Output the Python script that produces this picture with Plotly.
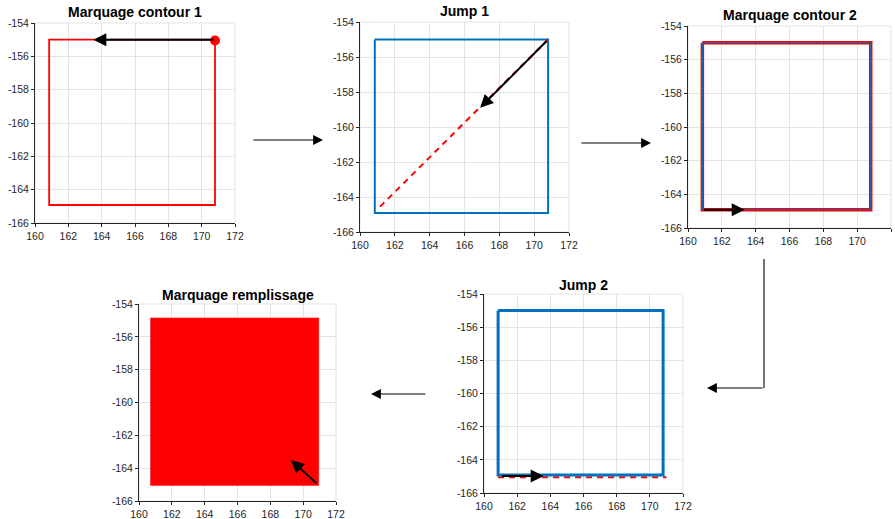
import plotly.graph_objects as go

W, H = 895, 519

# ---- data ----
titles = ["Marquage contour 1", "Jump 1", "Marquage contour 2", "Marquage remplissage", "Jump 2"]
xticks = [160, 162, 164, 166, 168, 170, 172]
yticks = [-166, -164, -162, -160, -158, -156, -154]
xticklabels = ["160", "162", "164", "166", "168", "170", "172"]
yticklabels = ["-166", "-164", "-162", "-160", "-158", "-156", "-154"]

square_x = [160.85, 170.8, 170.8, 160.85, 160.85]
square_y = [-155.0, -155.0, -164.92, -164.92, -155.0]
contour1_x = [170.8, 160.85, 160.85, 170.8, 170.8]
contour1_y = [-155.0, -155.0, -164.92, -164.92, -155.0]
start_pt_x = [170.8]
start_pt_y = [-155.05]
jump1_x = [170.8, 160.95]
jump1_y = [-155.0, -164.75]
jump2_x = [160.85, 171.0]
jump2_y = [-165.05, -165.05]
fill_x = [160.7, 170.95, 170.95, 160.7, 160.7]
fill_y = [-154.85, -154.85, -165.05, -165.05, -154.85]

# arrows inside panels: (panel, tail_x, tail_y, head_x, head_y)
panel_arrows = [
    (1, 170.8, -155.0, 163.5, -155.0),
    (2, 170.8, -155.0, 166.9, -158.9),
    (3, 160.85, -164.92, 163.35, -164.92),
    (4, 170.9, -165.0, 169.25, -163.5),
    (5, 161.0, -164.98, 163.6, -164.98),
]

# ---- layout (pixel boxes of each panel: x0, x1, y0(top), y1(bottom), title centre y) ----
boxes = {
    1: (35, 235, 23, 223, 12),
    2: (360, 569, 22, 232, 11),
    3: (688, 891, 26, 228, 15),
    4: (139, 336, 304, 501, 295),
    5: (484, 683, 294, 493, 285),
}

fig = go.Figure()
RED = "#ff0000"
BLUE = "#0072bd"

def ax(i):
    return ("x" if i == 1 else f"x{i}"), ("y" if i == 1 else f"y{i}")

# panel 1
xa, ya = ax(1)
fig.add_trace(go.Scatter(x=contour1_x, y=contour1_y, mode="lines", line=dict(color=RED, width=1.8),
                         xaxis=xa, yaxis=ya))
fig.add_trace(go.Scatter(x=start_pt_x, y=start_pt_y, mode="markers", marker=dict(color=RED, size=10),
                         xaxis=xa, yaxis=ya))
# panel 2
xa, ya = ax(2)
fig.add_trace(go.Scatter(x=square_x, y=square_y, mode="lines", line=dict(color=BLUE, width=2),
                         xaxis=xa, yaxis=ya))
fig.add_trace(go.Scatter(x=jump1_x, y=jump1_y, mode="lines", line=dict(color=RED, width=2, dash="6px,5px"),
                         xaxis=xa, yaxis=ya))
# panel 3
xa, ya = ax(3)
fig.add_trace(go.Scatter(x=square_x, y=square_y, mode="lines", line=dict(color=RED, width=3.5),
                         xaxis=xa, yaxis=ya))
fig.add_trace(go.Scatter(x=square_x, y=square_y, mode="lines", line=dict(color=BLUE, width=1),
                         xaxis=xa, yaxis=ya))
# panel 4
xa, ya = ax(4)
fig.add_trace(go.Scatter(x=fill_x, y=fill_y, mode="lines", fill="toself", fillcolor=RED,
                         line=dict(color=RED, width=0.5), xaxis=xa, yaxis=ya))
# panel 5
xa, ya = ax(5)
fig.add_trace(go.Scatter(x=jump2_x, y=jump2_y, mode="lines", line=dict(color=RED, width=2, dash="6px,5px"),
                         xaxis=xa, yaxis=ya))
fig.add_trace(go.Scatter(x=square_x, y=square_y, mode="lines", line=dict(color=BLUE, width=3),
                         xaxis=xa, yaxis=ya))

layout = dict(width=W, height=H, margin=dict(l=0, r=0, t=0, b=0, autoexpand=False),
              paper_bgcolor="white", plot_bgcolor="white", showlegend=False,
              font=dict(family="Liberation Sans, Arial, sans-serif", color="#262626", size=10))

annotations = []
shapes = []
for i, (x0, x1, y0, y1, ty) in boxes.items():
    xk = "xaxis" if i == 1 else f"xaxis{i}"
    yk = "yaxis" if i == 1 else f"yaxis{i}"
    xa, ya = ax(i)
    common = dict(showgrid=True, gridcolor="#e3e3e3", gridwidth=1, zeroline=False,
                  showline=True, linecolor="#262626", linewidth=1, ticks="outside",
                  ticklen=3, tickcolor="#262626", tickfont=dict(size=10.5, color="#262626"),
                  fixedrange=True, automargin=False)
    layout[xk] = dict(common, domain=[x0 / W, x1 / W], range=[160, 172], tickvals=xticks,
                      ticktext=xticklabels, anchor=ya)
    layout[yk] = dict(common, domain=[1 - y1 / H, 1 - y0 / H], range=[-166, -154], tickvals=yticks,
                      ticktext=yticklabels, anchor=xa)
    # light frame at top/right
    shapes.append(dict(type="rect", xref=f"{xa} domain", yref=f"{ya} domain", x0=0, x1=1, y0=0, y1=1,
                       line=dict(color="#e3e3e3", width=1), layer="below"))
    annotations.append(dict(text=f"<b>{titles[i-1]}</b>", xref="paper", yref="paper",
                            x=(x0 + x1) / 2 / W, y=1 - ty / H, xanchor="center", yanchor="middle",
                            showarrow=False, font=dict(size=14, color="black")))

for (p, tx, ty, hx, hy) in panel_arrows:
    xa, ya = ax(p)
    annotations.append(dict(x=hx, y=hy, ax=tx, ay=ty, xref=xa, yref=ya, axref=xa, ayref=ya,
                            text="", showarrow=True, arrowhead=2, arrowsize=1.3, arrowwidth=2,
                            arrowcolor="black"))

# arrows between panels (pixel positions: tail, tip)
flow_arrows = [
    ((252, 140), (323, 140)),
    ((580, 143), (651, 143)),
    ((764, 388), (707, 388)),
    ((427, 394), (371, 394)),
]
for (tx, ty), (hx, hy) in flow_arrows:
    annotations.append(dict(x=hx / W, y=1 - hy / H, xref="paper", yref="paper",
                            ax=tx - hx, ay=ty - hy, text="", showarrow=True, arrowhead=2,
                            arrowsize=1.8, arrowwidth=1.1, arrowcolor="black"))
shapes.append(dict(type="line", xref="paper", yref="paper", x0=764 / W, x1=764 / W,
                   y0=1 - 259 / H, y1=1 - 388 / H, line=dict(color="black", width=1.1)))

layout["annotations"] = annotations
layout["shapes"] = shapes
fig.update_layout(**layout)
fig.write_html("out.html", config={"displayModeBar": False, "staticPlot": True},
               post_script="document.body.style.margin='0px';document.body.style.overflow='hidden';")
